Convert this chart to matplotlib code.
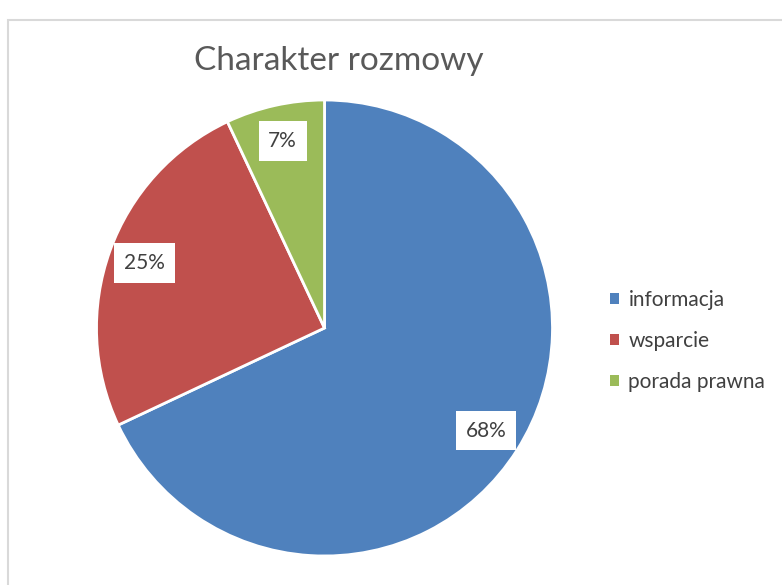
import matplotlib.pyplot as plt
from matplotlib.patches import Rectangle, Patch

plt.rcParams['font.family'] = ['Lato', 'DejaVu Sans']

categories = ['informacja', 'wsparcie', 'porada prawna']
values = [68, 25, 7]
colors = ['#4F81BD', '#C0504D', '#9BBB59']
title = 'Charakter rozmowy'

W, H = 782, 585
fig = plt.figure(figsize=(W / 100, H / 100), dpi=100)

# chart frame (cut off at right and bottom)
fig.patches.append(Rectangle((8 / W, -0.1), 1.2, 1 - 20 / H + 0.1,
                             transform=fig.transFigure, fill=False,
                             edgecolor='#d9d9d9', linewidth=1.5))

# pie axes: centre (324, 328), radius 228 px
cx, cy, r = 324.5, 328, 228
ax = fig.add_axes([(cx - r) / W, (H - cy - r) / H, 2 * r / W, 2 * r / H])
wedges, texts, autotexts = ax.pie(
    values, colors=colors, startangle=90, counterclock=False,
    autopct='%1.0f%%', pctdistance=0.84, radius=1,
    wedgeprops=dict(edgecolor='white', linewidth=2),
    textprops=dict(fontsize=15, color='#404040'))
for t in autotexts:
    t.set_bbox(dict(facecolor='white', edgecolor='none', pad=7))
ax.set_xlim(-1, 1)
ax.set_ylim(-1, 1)
ax.set_aspect('equal')
ax.axis('off')

fig.text(339 / W, 1 - 61 / H, title, ha='center', va='center',
         fontsize=24, color='#595959')

handles = [Patch(facecolor=c) for c in colors]
fig.legend(handles, categories, loc='center left',
           bbox_to_anchor=(591 / W, 1 - 341 / H), frameon=False,
           fontsize=15, labelcolor='#404040', handlelength=0.45,
           handleheight=0.45, handletextpad=0.45, labelspacing=1.0)

fig.savefig('out.png', dpi=100)
